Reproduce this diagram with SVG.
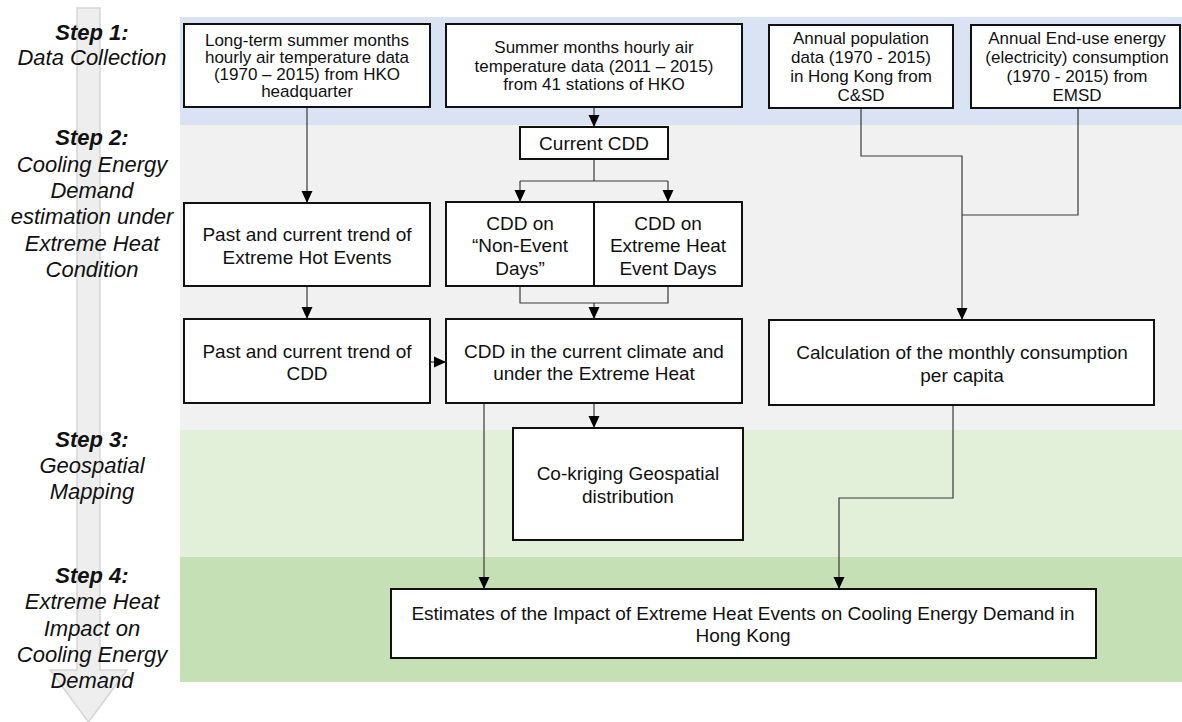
<svg xmlns="http://www.w3.org/2000/svg" width="1182" height="722" viewBox="0 0 1182 722">
<defs>
<marker id="arr" viewBox="0 0 12 12" refX="12" refY="6" markerWidth="12" markerHeight="12" markerUnits="userSpaceOnUse" orient="auto">
<path d="M0,0.5 L12,6 L0,11.5 z" fill="#000"/>
</marker>
<style>
.box{fill:#fff;stroke:#111;stroke-width:2}
.t17{font-family:"Liberation Sans",Arial,sans-serif;font-size:17px;fill:#111;text-anchor:middle}
.t19{font-family:"Liberation Sans",Arial,sans-serif;font-size:19px;fill:#111;text-anchor:middle}
.step{font-family:"Liberation Sans",Arial,sans-serif;font-size:22px;font-style:italic;fill:#111;text-anchor:middle}
.stepb{font-weight:bold}
.conn{fill:none;stroke:#3a3a3a;stroke-width:1.2}
</style>
</defs>
<rect width="1182" height="722" fill="#fff"/>
<g id="bands">
<rect x="180" y="17" width="1002" height="108" fill="#dae3f3"/>
<rect x="180" y="125" width="1002" height="305" fill="#f1f1f1"/>
<rect x="180" y="430" width="1002" height="127" fill="#e2efd9"/>
<rect x="180" y="557" width="1002" height="125" fill="#c5e0b4"/>
</g>
<g id="process-arrow">
<path d="M77,8 H100 V670 H127 L88.5,722 L50,670 H77 Z" fill="#eeeeee" stroke="#d6d6d6" stroke-width="1.5"/>
</g>
<g id="step-labels">
<g id="step1">
<text class="step" x="92" y="40"><tspan class="stepb">Step 1:</tspan></text>
<text class="step" x="92" y="65">Data Collection</text>
</g>
<g id="step2">
<text class="step" x="92" y="145"><tspan class="stepb">Step 2:</tspan></text>
<text class="step" x="92" y="172">Cooling Energy</text>
<text class="step" x="92" y="198">Demand</text>
<text class="step" x="92" y="224">estimation under</text>
<text class="step" x="92" y="251">Extreme Heat</text>
<text class="step" x="92" y="277">Condition</text>
</g>
<g id="step3">
<text class="step" x="92" y="447"><tspan class="stepb">Step 3:</tspan></text>
<text class="step" x="92" y="473">Geospatial</text>
<text class="step" x="92" y="499">Mapping</text>
</g>
<g id="step4">
<text class="step" x="92" y="583"><tspan class="stepb">Step 4:</tspan></text>
<text class="step" x="92" y="609">Extreme Heat</text>
<text class="step" x="92" y="636">Impact on</text>
<text class="step" x="92" y="662">Cooling Energy</text>
<text class="step" x="92" y="688">Demand</text>
</g>
</g>
<g id="connectors">
<path class="conn" d="M307,107 V203" marker-end="url(#arr)"/>
<path class="conn" d="M594,107 V127" marker-end="url(#arr)"/>
<path class="conn" d="M594,159 V181 M520,181 H668"/>
<path class="conn" d="M520,181 V202" marker-end="url(#arr)"/>
<path class="conn" d="M668,181 V202" marker-end="url(#arr)"/>
<path class="conn" d="M520,286 V303 H668 V286"/>
<path class="conn" d="M594,303 V319" marker-end="url(#arr)"/>
<path class="conn" d="M307,286 V319" marker-end="url(#arr)"/>
<path class="conn" d="M430,362 H446" marker-end="url(#arr)"/>
<path class="conn" d="M594,403 V428" marker-end="url(#arr)"/>
<path class="conn" d="M484,403 V589" marker-end="url(#arr)"/>
<path class="conn" d="M861,108 V156 H962 V320" marker-end="url(#arr)"/>
<path class="conn" d="M1078,108 V215 H962"/>
<path class="conn" d="M953,405 V498 H839 V589" marker-end="url(#arr)"/>
</g>
<g id="n-longterm">
<rect class="box" x="184" y="24" width="246" height="83"/>
<text class="t17" x="307" y="46">Long-term summer months</text>
<text class="t17" x="307" y="63">hourly air temperature data</text>
<text class="t17" x="307" y="80">(1970 – 2015) from HKO</text>
<text class="t17" x="307" y="97">headquarter</text>
</g>
<g id="n-summer">
<rect class="box" x="446" y="24" width="296" height="83"/>
<text class="t17" x="594" y="53">Summer months hourly air</text>
<text class="t17" x="594" y="71.5">temperature data (2011 – 2015)</text>
<text class="t17" x="594" y="90">from 41 stations of HKO</text>
</g>
<g id="n-population">
<rect class="box" x="769" y="25" width="184" height="83"/>
<text class="t17" x="861" y="44">Annual population</text>
<text class="t17" x="861" y="63">data (1970 - 2015)</text>
<text class="t17" x="861" y="82">in Hong Kong from</text>
<text class="t17" x="861" y="101">C&amp;SD</text>
</g>
<g id="n-energy">
<rect class="box" x="971" y="25" width="209" height="83"/>
<text class="t17" x="1077" y="44">Annual End-use energy</text>
<text class="t17" x="1077" y="63">(electricity) consumption</text>
<text class="t17" x="1077" y="82">(1970 - 2015) from</text>
<text class="t17" x="1077" y="101">EMSD</text>
</g>
<g id="n-currentcdd">
<rect class="box" x="520" y="127" width="148" height="32"/>
<text class="t19" x="594" y="150">Current CDD</text>
</g>
<g id="n-trend-events">
<rect class="box" x="184" y="203" width="246" height="83"/>
<text class="t19" x="307" y="241">Past and current trend of</text>
<text class="t19" x="307" y="264">Extreme Hot Events</text>
</g>
<g id="n-nonevent">
<rect class="box" x="446" y="202" width="148" height="84"/>
<text class="t19" x="520" y="230">CDD on</text>
<text class="t19" x="520" y="252">“Non-Event</text>
<text class="t19" x="520" y="275">Days”</text>
</g>
<g id="n-eventdays">
<rect class="box" x="594" y="202" width="148" height="84"/>
<text class="t19" x="668" y="230">CDD on</text>
<text class="t19" x="668" y="252">Extreme Heat</text>
<text class="t19" x="668" y="275">Event Days</text>
</g>
<g id="n-trend-cdd">
<rect class="box" x="184" y="319" width="246" height="84"/>
<text class="t19" x="307" y="358">Past and current trend of</text>
<text class="t19" x="307" y="380">CDD</text>
</g>
<g id="n-cdd-current">
<rect class="box" x="446" y="319" width="296" height="84"/>
<text class="t19" x="594" y="358">CDD in the current climate and</text>
<text class="t19" x="594" y="380">under the Extreme Heat</text>
</g>
<g id="n-calc">
<rect class="box" x="769" y="320" width="385" height="85"/>
<text class="t19" x="962" y="359">Calculation of the monthly consumption</text>
<text class="t19" x="962" y="382">per capita</text>
</g>
<g id="n-cokriging">
<rect class="box" x="513" y="428" width="230" height="112"/>
<text class="t19" x="628" y="480">Co-kriging Geospatial</text>
<text class="t19" x="628" y="503">distribution</text>
</g>
<g id="n-estimates">
<rect class="box" x="391" y="589" width="705" height="69"/>
<text class="t19" x="743" y="620">Estimates of the Impact of Extreme Heat Events on Cooling Energy Demand in</text>
<text class="t19" x="743" y="642">Hong Kong</text>
</g>
</svg>
